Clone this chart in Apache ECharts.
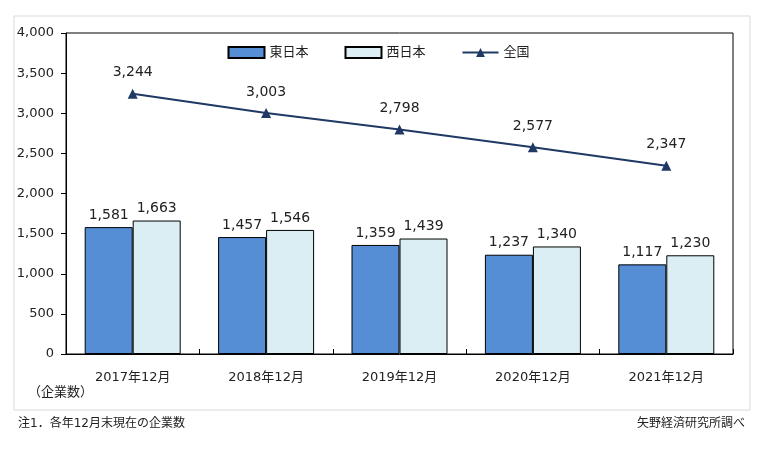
<!DOCTYPE html><html><head><meta charset="utf-8"><script src="https://cdn.jsdelivr.net/npm/echarts@6/dist/echarts.min.js"></script>
<style>body{margin:0;background:#fff}#c{width:757px;height:472px}</style></head><body><div id="c"></div><script>
const categories=['2017年12月','2018年12月','2019年12月','2020年12月','2021年12月'];
const east=[1581,1457,1359,1237,1117];
const west=[1663,1546,1439,1340,1230];
const total=[3244,3003,2798,2577,2347];
const F='"DejaVu Sans", "Noto Sans CJK JP", sans-serif';
const lbl={show:true,position:'top',color:'#222',fontSize:14,fontFamily:F,formatter:p=>p.value.toLocaleString('en-US')};
const ch=echarts.init(document.getElementById('c'));
ch.setOption({animation:false,
graphic:[{type:'rect',shape:{x:14,y:16,width:736,height:394},style:{fill:'none',stroke:'#d9d9d9',lineWidth:1}},
{type:'rect',shape:{x:66,y:33,width:667,height:321},style:{fill:'none',stroke:'#000',lineWidth:1},z:10},
{type:'text',left:28,top:386,style:{text:'（企業数）',fontSize:13,fontFamily:F,fill:'#222'}},
{type:'text',left:18,top:418,style:{text:'注1．各年12月末現在の企業数',fontSize:12,fontFamily:F,fill:'#222'}},
{type:'text',right:12,top:418,style:{text:'矢野経済研究所調べ',fontSize:12,fontFamily:F,fill:'#222'}}],
legend:{top:41,left:'center',itemWidth:36,itemHeight:11,itemGap:36,textStyle:{fontSize:13,fontFamily:F,color:'#222'},
data:[{name:'東日本',icon:'rect'},{name:'西日本',icon:'rect'},{name:'全国'}]},
grid:{left:66,right:24,top:33,bottom:118},
xAxis:{type:'category',data:categories,axisLine:{lineStyle:{color:'#000'}},axisTick:{show:true,inside:true,length:5,lineStyle:{color:'#000'}},axisLabel:{fontSize:13,fontFamily:F,color:'#222',margin:17}},
yAxis:{type:'value',min:0,max:4000,interval:500,axisLine:{show:true,lineStyle:{color:'#000'}},axisTick:{show:true,length:5,lineStyle:{color:'#000'}},splitLine:{show:false},axisLabel:{fontSize:13,fontFamily:F,color:'#222',margin:12,formatter:v=>v.toLocaleString('en-US')}},
series:[
{name:'東日本',type:'bar',data:east,barWidth:48,barGap:'0%',itemStyle:{color:'#558ed5',borderColor:'#000',borderWidth:1},label:lbl},
{name:'西日本',type:'bar',data:west,barWidth:48,itemStyle:{color:'#dbeef4',borderColor:'#000',borderWidth:1},label:lbl},
{name:'全国',type:'line',data:total,symbol:'triangle',symbolSize:10,lineStyle:{color:'#1f3864',width:2},itemStyle:{color:'#1f3864'},label:Object.assign({},lbl,{distance:9})}
]});
</script></body></html>
